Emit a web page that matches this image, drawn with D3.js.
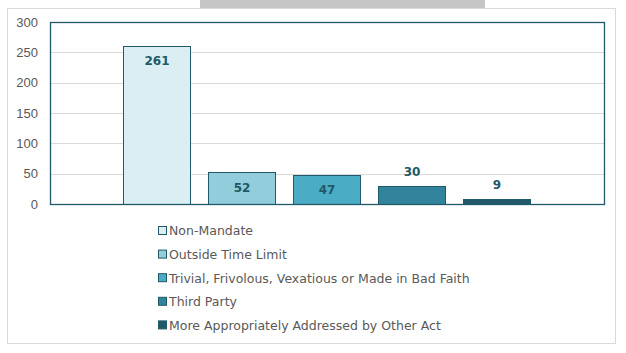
<!DOCTYPE html>
<html lang="en">
<head>
<meta charset="UTF-8">
<title>Chart</title>
<script src="https://cdn.jsdelivr.net/npm/d3@7"></script>
<style>
    body { margin: 0; background: #fff; font-family: "DejaVu Sans", sans-serif; }
    svg text { fill: #595959; }
</style>
</head>
<body>
<div id="chart"></div>
<script>
// data
const categories = ["Non-Mandate", "Outside Time Limit", "Trivial, Frivolous, Vexatious or Made in Bad Faith", "Third Party", "More Appropriately Addressed by Other Act"];
const values = [261, 52, 47, 30, 9];
const colors = ["#daeef3", "#92cddc", "#4bacc6", "#31849b", "#215968"];
const yTicks = [0, 50, 100, 150, 200, 250, 300];

const W = 626, H = 353;
const margin = { top: 22, right: 22, bottom: 149, left: 50 };
const width = W - margin.left - margin.right;
const height = H - margin.top - margin.bottom;
const dark = "#215968";

const svg = d3.select("#chart").append("svg")
    .attr("width", W).attr("height", H);

// grey tab at the top and the chart border
svg.append("rect").attr("x", 200).attr("y", 0).attr("width", 285).attr("height", 8).attr("fill", "#c6c6c6");
svg.append("rect").attr("x", 7.5).attr("y", 8.5).attr("width", 608).attr("height", 335)
    .attr("fill", "none").attr("stroke", "#d9d9d9");

const g = svg.append("g").attr("transform", `translate(${margin.left},${margin.top})`);

const x = d3.scaleBand().domain(categories).range([0, width]).paddingInner(0.212).paddingOuter(0.865);
const y = d3.scaleLinear().domain([0, 300]).range([height, 0]);

// gridlines
g.append("g").selectAll("line").data(yTicks.slice(1, -1)).enter().append("line")
    .attr("x1", 0).attr("x2", width)
    .attr("y1", d => Math.round(y(d)) + 0.5).attr("y2", d => Math.round(y(d)) + 0.5)
    .attr("stroke", "#d9d9d9");

// y axis labels
const yAxis = g.append("g").call(d3.axisLeft(y).tickValues(yTicks).tickSize(0).tickPadding(12));
yAxis.select(".domain").remove();
yAxis.selectAll("text").style("font-size", "13px").attr("fill", "#595959");

// bars
g.selectAll(".bar").data(values).enter().append("rect")
    .attr("x", (d, i) => Math.round(x(categories[i])) - 0.5)
    .attr("y", d => Math.round(y(d)) + 0.5)
    .attr("width", Math.round(x.bandwidth()))
    .attr("height", d => Math.round(height - y(d)))
    .attr("fill", (d, i) => colors[i])
    .attr("stroke", dark).attr("stroke-width", 1);

// value labels
g.selectAll(".lbl").data(values).enter().append("text")
    .attr("x", (d, i) => x(categories[i]) + x.bandwidth() / 2)
    .attr("y", (d, i) => {
        if (i === 0) return y(d) + 15;
        if (d > 40) return (y(d) + height) / 2;
        return y(d) - 14;
    })
    .attr("dy", "0.35em")
    .attr("text-anchor", "middle")
    .style("font-size", "12px").style("font-weight", "bold")
    .style("fill", dark)
    .text(d => d);

// plot frame
g.append("rect").attr("x", 0.5).attr("y", 0.5).attr("width", width).attr("height", height)
    .attr("fill", "none").attr("stroke", dark).attr("stroke-width", 1.3);

// legend
const legend = svg.append("g").attr("transform", "translate(158, 231)");
const item = legend.selectAll("g").data(categories).enter().append("g")
    .attr("transform", (d, i) => `translate(0, ${i * 23.6})`);
item.append("rect").attr("x", 0.5).attr("y", -4.5).attr("width", 8).attr("height", 8)
    .attr("fill", (d, i) => colors[i]).attr("stroke", dark);
item.append("text").attr("x", 11).attr("dy", "0.35em")
    .style("font-size", "12.5px").text(d => d);
</script>
</body>
</html>
